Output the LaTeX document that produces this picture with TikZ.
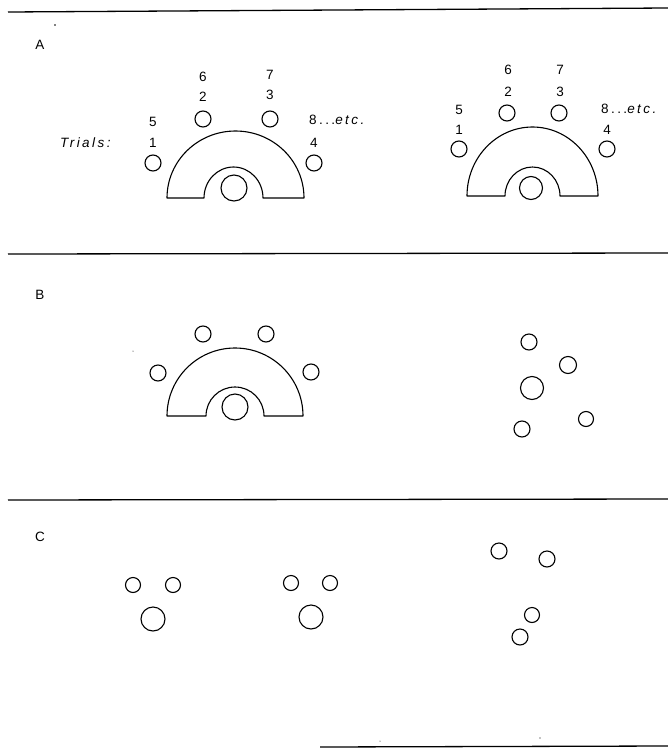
\documentclass[tikz,border=0pt]{standalone}
\usepackage{fontspec}
\setmainfont{Liberation Sans}
\newfontfamily\spacedfont[LetterSpace=18]{Liberation Sans}
\begin{document}
\begin{tikzpicture}[x=1pt,y=1pt,
  ring/.style={draw, circle, line width=1.1pt, inner sep=0pt, minimum size=16pt},
  bigring/.style={ring, minimum size=25pt},
  lbl/.style={font=\fontsize{13.5}{14}\selectfont, inner sep=0pt},
  slbl/.style={font=\spacedfont\fontsize{13.5}{14}\selectfont, inner sep=0pt},
  rule/.style={line width=1.3pt},
  archline/.style={line width=1.1pt, line join=round}]
\useasboundingbox (0,0) rectangle (668,-750);

% section rules
\draw[rule] (8,-12) -- (668,-8);
\draw[rule] (8,-254) -- (668,-253);
\draw[rule] (8,-500) -- (668,-499);
\draw[rule] (320,-747) -- (668,-746);
\fill (55,-25) circle (0.9pt);
\fill (133,-351) circle (0.5pt);
\fill (380,-741) circle (0.5pt);
\fill (540,-738) circle (0.6pt);

% panel letters
\node[lbl] (labA) at (40,-45) {A};
\node[lbl] (labB) at (40,-295) {B};
\node[lbl] (labC) at (40,-537) {C};

% ---------- Panel A left ----------
\draw[archline] (167,-198) arc[start angle=180,end angle=0,x radius=68.5pt,y radius=67pt]
  -- (263,-198) arc[start angle=0,end angle=180,x radius=29.5pt,y radius=31pt] -- cycle;
\node[bigring, minimum size=26pt] (aLc) at (234,-188) {};
\node[ring] (aL1) at (153,-163) {};
\node[ring] (aL2) at (203,-119) {};
\node[ring] (aL3) at (270,-119) {};
\node[ring] (aL4) at (314,-163) {};
\node[lbl] (tL5) at (153,-122) {5};
\node[lbl] (tL1) at (153,-143) {1};
\node[lbl] (tL6) at (203,-77) {6};
\node[lbl] (tL2) at (203,-97) {2};
\node[lbl] (tL7) at (270,-75) {7};
\node[lbl] (tL3) at (270,-95) {3};
\node[slbl, anchor=west] (tL8) at (309,-120) {8...\textit{etc.}};
\node[lbl] (tL4) at (314,-143) {4};
\node[slbl, anchor=west] (trials) at (60,-143) {\textit{Trials:}};

% ---------- Panel A right ----------
\draw[archline] (467,-196) arc[start angle=180,end angle=0,x radius=65.5pt,y radius=69pt]
  -- (560,-196) arc[start angle=0,end angle=180,x radius=27.5pt,y radius=29pt] -- cycle;
\node[bigring, minimum size=23pt] (aRc) at (531,-188) {};
\node[ring] (aR1) at (459,-149) {};
\node[ring] (aR2) at (507,-113) {};
\node[ring] (aR3) at (559,-113) {};
\node[ring] (aR4) at (607,-149) {};
\node[lbl] (tR5) at (459,-110) {5};
\node[lbl] (tR1) at (459,-130) {1};
\node[lbl] (tR6) at (508,-70) {6};
\node[lbl] (tR2) at (508,-92) {2};
\node[lbl] (tR7) at (560,-70) {7};
\node[lbl] (tR3) at (560,-92) {3};
\node[slbl, anchor=west] (tR8) at (601,-109) {8...\textit{etc.}};
\node[lbl] (tR4) at (607,-130) {4};

% ---------- Panel B left ----------
\draw[archline] (167,-416) arc[start angle=180,end angle=0,x radius=68pt,y radius=68pt]
  -- (264,-416) arc[start angle=0,end angle=180,x radius=29pt,y radius=29pt] -- cycle;
\node[bigring, minimum size=26pt] (bLc) at (235,-407) {};
\node[ring] (bL1) at (158,-373) {};
\node[ring] (bL2) at (203,-334) {};
\node[ring] (bL3) at (266,-334) {};
\node[ring] (bL4) at (311,-372) {};

% ---------- Panel B right ----------
\node[ring] (bR1) at (529,-342) {};
\node[ring, minimum size=17pt] (bR2) at (568,-365) {};
\node[bigring, minimum size=23pt] (bRc) at (532,-388) {};
\node[ring] (bR3) at (522,-429) {};
\node[ring, minimum size=15pt] (bR4) at (586,-419) {};

% ---------- Panel C ----------
\node[ring, minimum size=15pt] (cL1) at (133,-585) {};
\node[ring, minimum size=15pt] (cL2) at (173,-585) {};
\node[bigring, minimum size=24pt] (cLc) at (153,-619) {};

\node[ring, minimum size=15pt] (cM1) at (291,-583) {};
\node[ring, minimum size=15pt] (cM2) at (330,-583) {};
\node[bigring, minimum size=24pt] (cMc) at (311,-617) {};

\node[ring] (cR1) at (499,-551) {};
\node[ring] (cR2) at (547,-559) {};
\node[ring, minimum size=15pt] (cR3) at (532,-615) {};
\node[ring] (cR4) at (520,-637) {};
\end{tikzpicture}
\end{document}
